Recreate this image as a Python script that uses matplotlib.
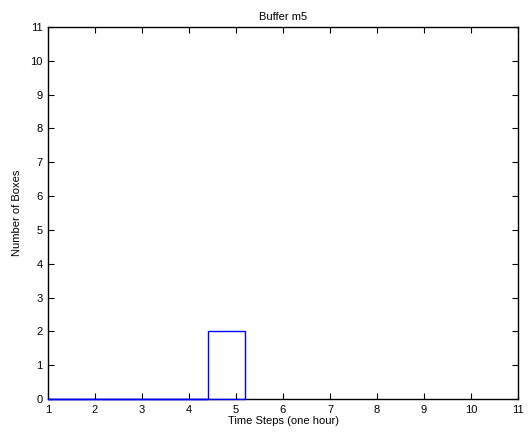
import matplotlib
matplotlib.use('Agg')
import matplotlib.pyplot as plt

plt.rcParams['font.family'] = ['Liberation Sans', 'DejaVu Sans']

# bin edges (time steps) and number of boxes in each bin
edges = [1, 4.4, 5.2]
counts = [0, 2]
xticks = list(range(1, 12))
yticks = list(range(0, 12))

fig = plt.figure(figsize=(5.29, 4.41), dpi=100)
ax = fig.add_axes([48/529, 42/441, 470/529, 372/441])

ax.stairs(counts, edges, baseline=0, color='blue', linewidth=1, zorder=3, clip_on=False)
# bar bottoms sit on the baseline, drawn over the axis like matlab does
ax.hlines(0, edges[0], edges[-1], color='blue', linewidth=1, zorder=3, clip_on=False)

ax.set_xlim(1, 11)
ax.set_ylim(0, 11)
ax.set_xticks(xticks)
ax.set_yticks(yticks)
ax.tick_params(direction='in', top=True, right=True, labelsize=8, length=4, pad=4)
for s in ax.spines.values():
	s.set_linewidth(1)

ax.set_title('Buffer m5', fontsize=8, pad=5)
ax.set_xlabel('Time Steps (one hour)', fontsize=8, labelpad=1)
ax.set_ylabel('Number of Boxes', fontsize=8, labelpad=6)

fig.savefig('out.png', dpi=100)
